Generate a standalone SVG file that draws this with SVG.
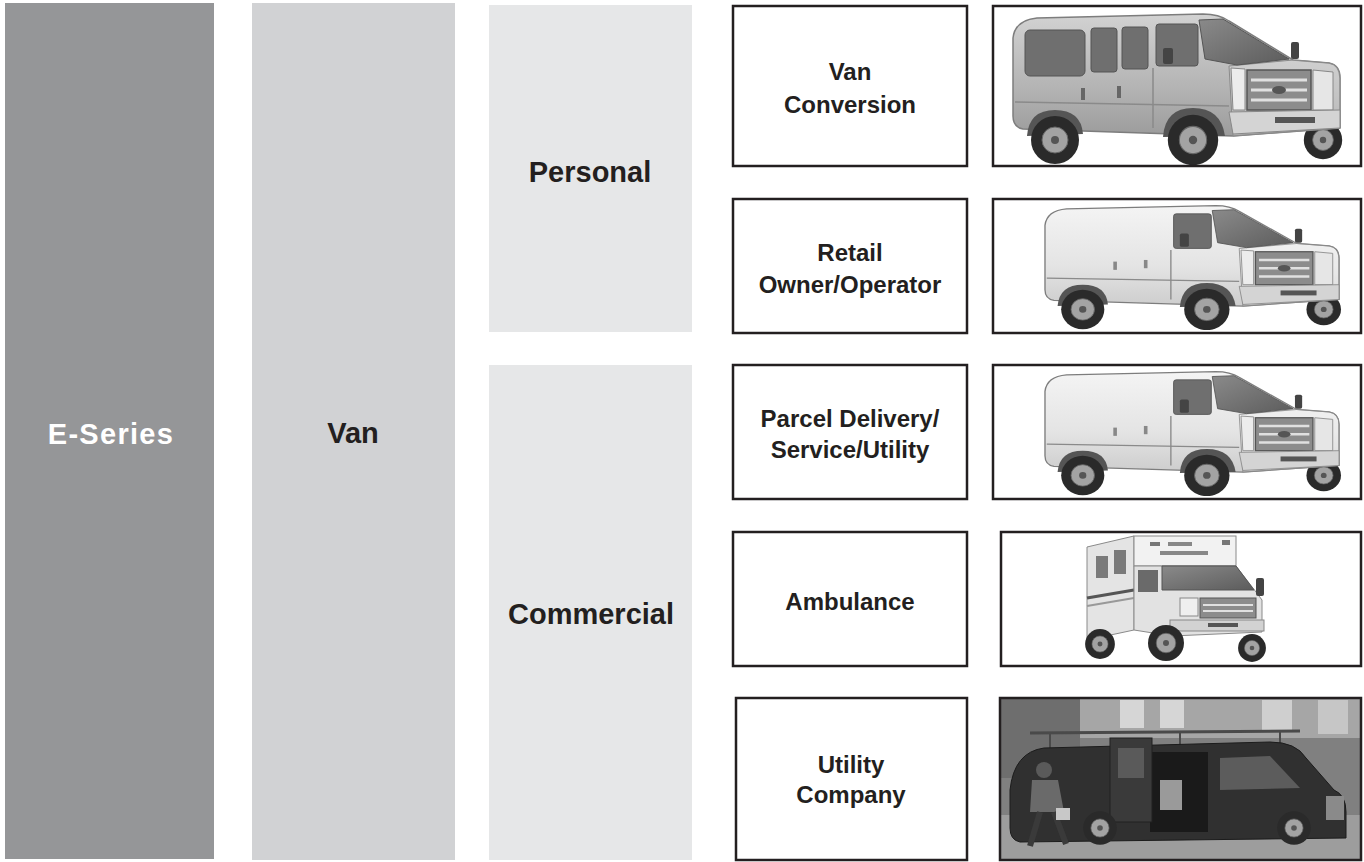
<svg xmlns="http://www.w3.org/2000/svg" xmlns:xlink="http://www.w3.org/1999/xlink" width="1364" height="862" viewBox="0 0 1364 862">
<style>
  .hdr { font-family: "Liberation Sans", Arial, sans-serif; font-weight: bold; font-size: 29px; text-anchor: middle; fill: #231f20; }
  .hdr.white { fill: #ffffff; letter-spacing: 1.3px; }
  .lbl { font-family: "Liberation Sans", Arial, sans-serif; font-weight: bold; font-size: 24px; text-anchor: middle; fill: #231f20; }
  .box { fill: #ffffff; stroke: #231f20; stroke-width: 2.5; }
  .frame { fill: none; stroke: #231f20; stroke-width: 2.5; }
  .tyre { fill: #2a2a2a; }
  .hub { fill: #a3a3a3; stroke: #666; stroke-width: 1; }
  .win { fill: #6f6f6f; stroke: #555; stroke-width: 1; }
  .trim { stroke: #8a8a8a; stroke-width: 1.5; fill: none; }
</style>
<defs>
  <linearGradient id="gPax" x1="0" y1="0" x2="0" y2="1">
    <stop offset="0" stop-color="#d2d2d2"/>
    <stop offset="0.6" stop-color="#b4b4b4"/>
    <stop offset="1" stop-color="#9c9c9c"/>
  </linearGradient>
  <linearGradient id="gCargo" x1="0" y1="0" x2="0" y2="1">
    <stop offset="0" stop-color="#f4f4f4"/>
    <stop offset="0.6" stop-color="#e4e4e4"/>
    <stop offset="1" stop-color="#cdcdcd"/>
  </linearGradient>
  <linearGradient id="gGlass" x1="0" y1="0" x2="1" y2="1">
    <stop offset="0" stop-color="#8a8a8a"/>
    <stop offset="1" stop-color="#5c5c5c"/>
  </linearGradient>
  <g id="wheel">
    <circle r="24" class="tyre"/>
    <circle r="13" class="hub"/>
    <circle r="4" fill="#555"/>
  </g>
  <g id="vanBase">
    <use xlink:href="#wheel" href="#wheel" transform="translate(330,134) scale(0.8)"/>
    <path d="M20 32 Q22 14 44 12 L210 8 Q226 8 236 15 L300 54 L336 57 Q347 59 347 72 L347 122 L240 130 L30 123 Q20 121 20 110 Z" stroke="#7d7d7d" stroke-width="1.5"/>
    <path d="M236 60 L300 54 L336 57 Q347 59 347 72 L347 122 L240 130 Z" fill="#ffffff" fill-opacity="0.25" stroke="#8a8a8a" stroke-width="1"/>
    <polygon points="206,14 230,13 296,53 244,59 212,53" fill="url(#gGlass)" stroke="#555" stroke-width="1"/>
    <path d="M34 130 Q36 104 62 104 Q88 104 90 128 Z" fill="#555"/>
    <path d="M170 131 Q172 102 200 102 Q228 102 232 130 Z" fill="#555"/>
    <use xlink:href="#wheel" href="#wheel" transform="translate(62,134)"/>
    <use xlink:href="#wheel" href="#wheel" transform="translate(200,134) scale(1.05)"/>
    <line x1="22" y1="96" x2="236" y2="100" class="trim"/>
    <line x1="160" y1="62" x2="160" y2="122" class="trim"/>
    <polygon points="238,62 252,63 252,104 240,104" fill="#ececec" stroke="#888" stroke-width="1"/>
    <rect x="254" y="64" width="64" height="40" fill="#8c8c8c" stroke="#555" stroke-width="1.5"/>
    <line x1="258" y1="74" x2="314" y2="74" stroke="#e0e0e0" stroke-width="3"/>
    <line x1="258" y1="84" x2="314" y2="84" stroke="#e0e0e0" stroke-width="3"/>
    <line x1="258" y1="94" x2="314" y2="94" stroke="#e0e0e0" stroke-width="3"/>
    <ellipse cx="286" cy="84" rx="7" ry="4" fill="#555"/>
    <polygon points="320,64 340,66 340,104 320,104" fill="#e6e6e6" stroke="#888" stroke-width="1"/>
    <path d="M236 106 L347 104 L347 122 L240 128 Z" fill="#d4d4d4" stroke="#888" stroke-width="1"/>
    <rect x="282" y="111" width="40" height="6" fill="#555"/>
    <rect x="298" y="36" width="8" height="17" rx="2" fill="#444"/>
  </g>
  <g id="paxWindows">
    <rect x="32" y="24" width="60" height="46" rx="5" class="win"/>
    <rect x="98" y="22" width="26" height="44" rx="3" class="win"/>
    <rect x="129" y="21" width="26" height="42" rx="3" class="win"/>
    <rect x="163" y="18" width="42" height="42" rx="3" class="win"/>
    <rect x="170" y="42" width="10" height="16" rx="2" fill="#444"/>
    <rect x="88" y="82" width="4" height="12" fill="#666"/>
    <rect x="124" y="80" width="4" height="12" fill="#666"/>
  </g>
  <g id="cargoWindows">
    <rect x="163" y="18" width="42" height="42" rx="3" class="win"/>
    <rect x="170" y="42" width="10" height="16" rx="2" fill="#444"/>
    <rect x="96" y="76" width="4" height="10" fill="#888"/>
    <rect x="130" y="74" width="4" height="10" fill="#888"/>
  </g>
  <symbol id="vanPax" viewBox="0 0 367 159" preserveAspectRatio="none">
    <use xlink:href="#vanBase" href="#vanBase" fill="url(#gPax)"/>
    <use xlink:href="#paxWindows" href="#paxWindows"/>
  </symbol>
  <symbol id="vanCargo" viewBox="0 0 367 159" preserveAspectRatio="none">
    <use xlink:href="#vanBase" href="#vanBase" fill="url(#gCargo)"/>
    <use xlink:href="#cargoWindows" href="#cargoWindows"/>
  </symbol>
</defs>

<rect width="1364" height="862" fill="#ffffff"/>

<g id="col-eseries">
  <rect x="5" y="3" width="209" height="856" fill="#959698"/>
  <text class="hdr white" x="111" y="444">E-Series</text>
</g>
<g id="col-van">
  <rect x="252" y="3" width="203" height="857" fill="#d1d2d4"/>
  <text class="hdr" x="353" y="443">Van</text>
</g>
<g id="col-personal">
  <rect x="489" y="5" width="203" height="327" fill="#e6e7e8"/>
  <text class="hdr" x="590" y="182">Personal</text>
</g>
<g id="col-commercial">
  <rect x="489" y="365" width="203" height="495" fill="#e6e7e8"/>
  <text class="hdr" x="591" y="624">Commercial</text>
</g>

<g id="node-van-conversion">
  <rect class="box" x="733" y="6" width="234" height="160"/>
  <text class="lbl" x="850" y="80">Van</text>
  <text class="lbl" x="850" y="113">Conversion</text>
</g>
<g id="photo-van-conversion">
  <rect x="993" y="6" width="368" height="160" fill="#ffffff"/>
  <use xlink:href="#vanPax" href="#vanPax" x="993" y="6" width="367" height="159"/>
  <rect class="frame" x="993" y="6" width="368" height="160"/>
</g>

<g id="node-retail">
  <rect class="box" x="733" y="199" width="234" height="134"/>
  <text class="lbl" x="850" y="261">Retail</text>
  <text class="lbl" x="850" y="293">Owner/Operator</text>
</g>
<g id="photo-retail">
  <rect x="993" y="199" width="368" height="134" fill="#ffffff"/>
  <use xlink:href="#vanCargo" href="#vanCargo" x="1027" y="199" width="330" height="131"/>
  <rect class="frame" x="993" y="199" width="368" height="134"/>
</g>

<g id="node-parcel">
  <rect class="box" x="733" y="365" width="234" height="134"/>
  <text class="lbl" x="850" y="427">Parcel Delivery/</text>
  <text class="lbl" x="850" y="458">Service/Utility</text>
</g>
<g id="photo-parcel">
  <rect x="993" y="365" width="368" height="134" fill="#ffffff"/>
  <use xlink:href="#vanCargo" href="#vanCargo" x="1027" y="365" width="330" height="131"/>
  <rect class="frame" x="993" y="365" width="368" height="134"/>
</g>

<g id="node-ambulance">
  <rect class="box" x="733" y="532" width="234" height="134"/>
  <text class="lbl" x="850" y="610">Ambulance</text>
</g>
<g id="photo-ambulance">
  <rect x="1001" y="532" width="360" height="134" fill="#ffffff"/>
  <polygon points="1087,547 1134,536 1134,630 1087,640" fill="#e4e4e4" stroke="#8a8a8a" stroke-width="1"/>
  <rect x="1134" y="536" width="102" height="30" fill="#f2f2f2" stroke="#8a8a8a" stroke-width="1"/>
  <rect x="1150" y="542" width="10" height="4" fill="#777"/>
  <rect x="1168" y="542" width="24" height="4" fill="#888"/>
  <rect x="1160" y="551" width="48" height="4" fill="#888"/>
  <rect x="1222" y="540" width="8" height="5" fill="#777"/>
  <rect x="1096" y="556" width="12" height="22" fill="#7a7a7a"/>
  <rect x="1114" y="550" width="12" height="24" fill="#7a7a7a"/>
  <line x1="1087" y1="598" x2="1134" y2="590" stroke="#555" stroke-width="3"/>
  <line x1="1087" y1="606" x2="1134" y2="598" stroke="#999" stroke-width="2"/>
  <path d="M1134 566 L1236 566 L1256 592 L1262 600 L1262 632 L1172 636 L1134 630 Z" fill="#e2e2e2" stroke="#8a8a8a" stroke-width="1"/>
  <polygon points="1162,566 1236,566 1254,590 1162,590" fill="url(#gGlass)" stroke="#555" stroke-width="1"/>
  <rect x="1138" y="570" width="20" height="22" fill="#6a6a6a"/>
  <rect x="1180" y="598" width="18" height="18" fill="#efefef" stroke="#888" stroke-width="1"/>
  <rect x="1200" y="598" width="56" height="20" fill="#8c8c8c" stroke="#555" stroke-width="1"/>
  <line x1="1203" y1="605" x2="1253" y2="605" stroke="#e0e0e0" stroke-width="2"/>
  <line x1="1203" y1="611" x2="1253" y2="611" stroke="#e0e0e0" stroke-width="2"/>
  <rect x="1170" y="620" width="94" height="11" fill="#d2d2d2" stroke="#888" stroke-width="1"/>
  <rect x="1208" y="623" width="30" height="4" fill="#555"/>
  <rect x="1256" y="578" width="8" height="18" rx="2" fill="#444"/>
  <use xlink:href="#wheel" href="#wheel" transform="translate(1100,644) scale(0.62)"/>
  <use xlink:href="#wheel" href="#wheel" transform="translate(1166,643) scale(0.75)"/>
  <use xlink:href="#wheel" href="#wheel" transform="translate(1252,648) scale(0.58)"/>
  <rect class="frame" x="1001" y="532" width="360" height="134"/>
</g>

<g id="node-utility">
  <rect class="box" x="736" y="698" width="231" height="162"/>
  <text class="lbl" x="851" y="773">Utility</text>
  <text class="lbl" x="851" y="803">Company</text>
</g>
<g id="photo-utility">
  <rect x="1000" y="698" width="361" height="162" fill="#808080"/>
  <rect x="1080" y="698" width="281" height="40" fill="#a6a6a6"/>
  <rect x="1000" y="698" width="80" height="80" fill="#6e6e6e"/>
  <rect x="1120" y="700" width="24" height="28" fill="#d6d6d6"/>
  <rect x="1160" y="700" width="24" height="28" fill="#d6d6d6"/>
  <rect x="1262" y="700" width="30" height="30" fill="#cfcfcf"/>
  <rect x="1318" y="700" width="30" height="34" fill="#c6c6c6"/>
  <rect x="1000" y="815" width="361" height="45" fill="#9d9d9d"/>
  <line x1="1030" y1="733" x2="1300" y2="731" stroke="#4a4a4a" stroke-width="3"/>
  <line x1="1050" y1="733" x2="1050" y2="748" stroke="#4a4a4a" stroke-width="2"/>
  <line x1="1180" y1="732" x2="1180" y2="746" stroke="#4a4a4a" stroke-width="2"/>
  <line x1="1280" y1="731" x2="1280" y2="746" stroke="#4a4a4a" stroke-width="2"/>
  <path d="M1010 790 Q1014 752 1044 748 L1270 742 Q1296 742 1306 758 L1334 790 Q1346 795 1346 812 L1346 838 L1020 842 Q1010 840 1010 828 Z" fill="#303030" stroke="#1c1c1c" stroke-width="1"/>
  <rect x="1150" y="752" width="58" height="80" fill="#1a1a1a"/>
  <rect x="1160" y="780" width="22" height="30" fill="#9a9a9a"/>
  <rect x="1110" y="738" width="42" height="84" fill="#3a3a3a" stroke="#202020" stroke-width="1"/>
  <rect x="1118" y="748" width="26" height="30" fill="#5a5a5a"/>
  <polygon points="1220,758 1270,756 1300,788 1220,790" fill="#5c5c5c"/>
  <rect x="1326" y="796" width="18" height="24" fill="#8a8a8a"/>
  <use xlink:href="#wheel" href="#wheel" transform="translate(1100,828) scale(0.7)"/>
  <use xlink:href="#wheel" href="#wheel" transform="translate(1294,828) scale(0.7)"/>
  <circle cx="1044" cy="770" r="8" fill="#5a5a5a"/>
  <path d="M1032 780 L1058 780 L1064 812 L1030 812 Z" fill="#6a6a6a"/>
  <line x1="1040" y1="812" x2="1030" y2="846" stroke="#3a3a3a" stroke-width="6"/>
  <line x1="1054" y1="812" x2="1066" y2="844" stroke="#3a3a3a" stroke-width="6"/>
  <rect x="1056" y="808" width="14" height="12" fill="#c8c8c8"/>
  <rect class="frame" x="1000" y="698" width="361" height="162"/>
</g>

<g id="connectors"></g>
</svg>
